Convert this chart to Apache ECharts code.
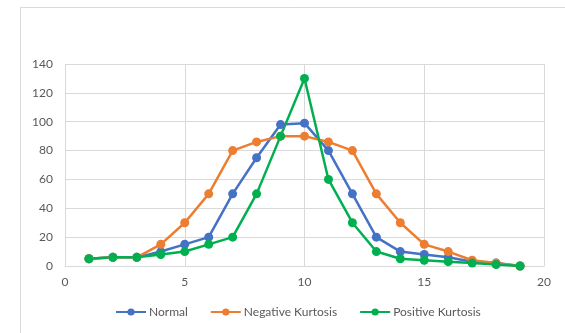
<!DOCTYPE html>
<html><head><meta charset="utf-8">
<script src="https://cdn.jsdelivr.net/npm/echarts@6/dist/echarts.min.js"></script>
<style>html,body{margin:0;padding:0;background:#fff}#c{width:565px;height:333px}</style>
</head><body><div id="c"></div>
<script>
const xValues = [1,2,3,4,5,6,7,8,9,10,11,12,13,14,15,16,17,18,19];
const normal = [5,6,6,10,15,20,50,75,98,99,80,50,20,10,8,6,3,2,0];
const negativeKurtosis = [5,6,6,15,30,50,80,86,90,90,86,80,50,30,15,10,4,2,0];
const positiveKurtosis = [5,6,6,8,10,15,20,50,90,130,60,30,10,5,4,3,2,1,0];
const seriesNames = ['Normal','Negative Kurtosis','Positive Kurtosis'];
const colors = ['#4472C4','#ED7D31','#00B050'];

const font = 'Lato, "Liberation Sans", sans-serif';
const chart = echarts.init(document.getElementById('c'));
function mk(name, vals, color){
  return {
    name, type:'line', data: xValues.map((x,i)=>[x, vals[i]]),
    symbol:'circle', symbolSize:9, showSymbol:true,
    lineStyle:{width:2.5,color}, itemStyle:{color},
    emphasis:{disabled:true}, animation:false
  };
}
chart.setOption({
  animation:false,
  textStyle:{fontFamily:font},
  graphic:[{type:'rect', shape:{x:20.5,y:7.5,width:700,height:500}, style:{fill:'none',stroke:'#d9d9d9',lineWidth:1}, silent:true}],
  grid:{left:65,right:21,top:64,bottom:67},
  xAxis:{type:'value',min:0,max:20,interval:5,
    axisLine:{show:true,lineStyle:{color:'#d9d9d9'}},
    axisTick:{show:false},
    axisLabel:{color:'#595959',fontSize:12,fontFamily:font,margin:10},
    splitLine:{show:true,lineStyle:{color:'#d9d9d9',width:1}}},
  yAxis:{type:'value',min:0,max:140,interval:20,
    axisLine:{show:false},axisTick:{show:false},
    axisLabel:{color:'#595959',fontSize:12,fontFamily:font,margin:12},
    splitLine:{show:true,lineStyle:{color:'#d9d9d9',width:1}}},
  legend:{bottom:10,left:110,itemWidth:30,itemHeight:9,itemGap:22,
    textStyle:{color:'#595959',fontSize:12,fontFamily:font,padding:[0,0,0,-2]},
    data:seriesNames},
  series:[mk(seriesNames[0],normal,colors[0]),mk(seriesNames[1],negativeKurtosis,colors[1]),mk(seriesNames[2],positiveKurtosis,colors[2])]
});
</script></body></html>
